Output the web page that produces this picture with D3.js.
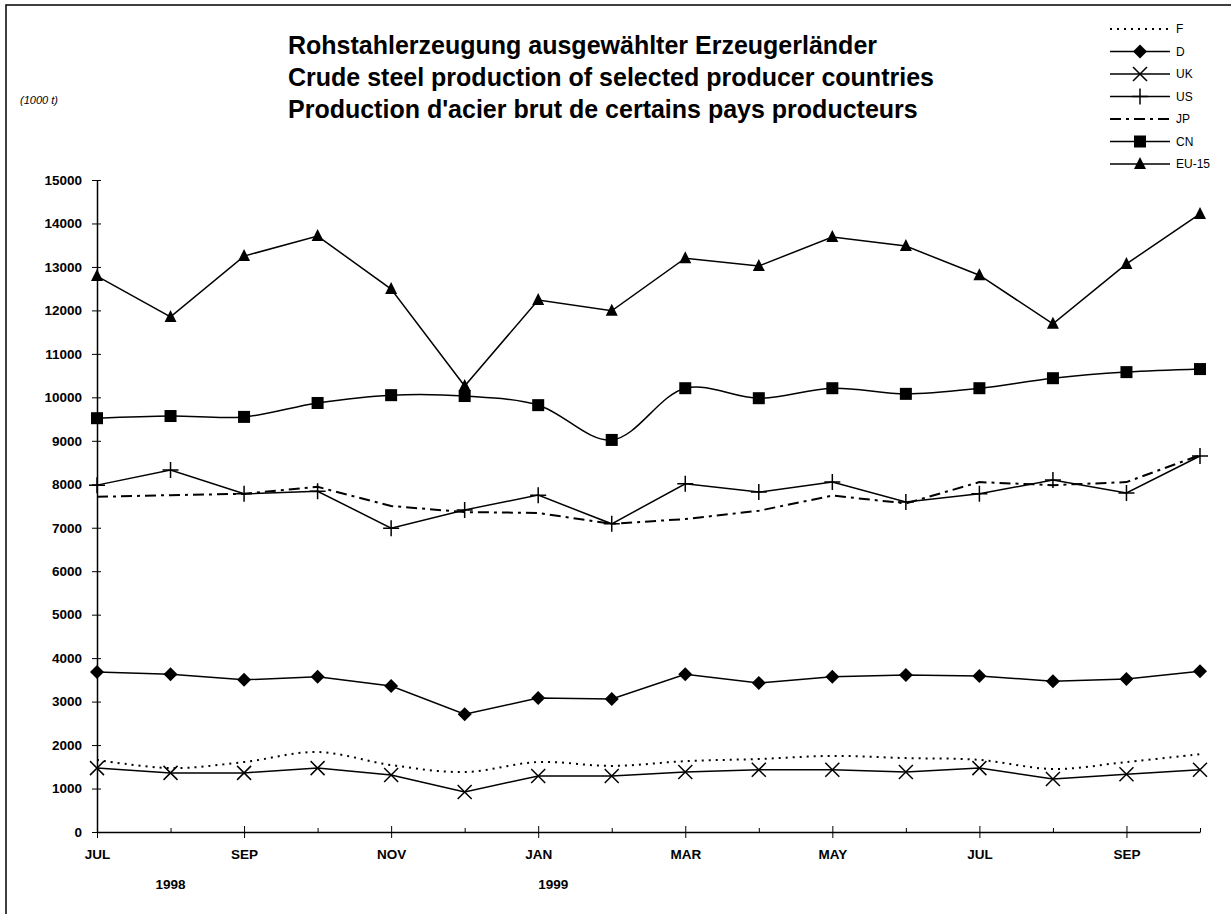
<!DOCTYPE html>
<html>
<head>
<meta charset="utf-8">
<script src="https://cdn.jsdelivr.net/npm/d3@7"></script>
<style>
  body { margin: 0; background: #fff; }
  svg { display: block; font-family: "Liberation Sans", Arial, sans-serif; }
</style>
</head>
<body>
<div id="chart"></div>
<script>
// Monate Jul 1998 - Okt 1999
const months = ['JUL', 'AUG', 'SEP', 'OCT', 'NOV', 'DEC', 'JAN', 'FEB',
                'MAR', 'APR', 'MAY', 'JUN', 'JUL', 'AUG', 'SEP', 'OCT'];
const tickLabels = ['JUL', '', 'SEP', '', 'NOV', '', 'JAN', '',
                    'MAR', '', 'MAY', '', 'JUL', '', 'SEP', ''];
const years = [{ label: '1998', at: 1, dx: 0 }, { label: '1999', at: 6, dx: 15 }];
const yTicks = d3.range(0, 15001, 1000);

const titleLines = [
  'Rohstahlerzeugung ausgewählter Erzeugerländer',
  'Crude steel production of selected producer countries',
  "Production d'acier brut de certains pays producteurs"
];

// Werte in 1000 t
const F    = [1660, 1470, 1610, 1840, 1540, 1380, 1610, 1520, 1630, 1680, 1750, 1700, 1660, 1450, 1610, 1790];
const D    = [3680, 3630, 3500, 3570, 3360, 2710, 3080, 3060, 3630, 3430, 3570, 3610, 3590, 3470, 3520, 3700];
const UK   = [1470, 1360, 1360, 1470, 1310, 920, 1290, 1290, 1380, 1430, 1430, 1380, 1470, 1220, 1330, 1430];
const US   = [7980, 8330, 7780, 7840, 6990, 7410, 7750, 7090, 8010, 7820, 8050, 7590, 7780, 8100, 7800, 8650];
const JP   = [7710, 7750, 7780, 7940, 7500, 7360, 7340, 7090, 7200, 7390, 7740, 7560, 8050, 7980, 8050, 8670];
const CN   = [9520, 9570, 9550, 9870, 10050, 10030, 9820, 9020, 10210, 9980, 10210, 10080, 10210, 10440, 10580, 10650];
const EU15 = [12790, 11850, 13250, 13710, 12490, 10260, 12240, 11990, 13200, 13020, 13690, 13480, 12810, 11690, 13070, 14220];

const series = [
  { name: 'F', values: F, dash: '2,5', marker: null, smooth: true },
  { name: 'D', values: D, dash: null, marker: 'diamond', smooth: false },
  { name: 'UK', values: UK, dash: null, marker: 'x', smooth: false },
  { name: 'US', values: US, dash: null, marker: 'plus', smooth: false },
  { name: 'JP', values: JP, dash: '11,5,3,5', marker: null, smooth: false },
  { name: 'CN', values: CN, dash: null, marker: 'square', smooth: true },
  { name: 'EU-15', values: EU15, dash: null, marker: 'triangle', smooth: false }
];

const W = 1231, H = 914;
const svg = d3.select('#chart').append('svg')
  .attr('width', W)
  .attr('height', H);

// Rahmen (nur oben und links sichtbar)
svg.append('path')
  .attr('d', `M6,${H} V5 H${W}`)
  .attr('fill', 'none')
  .attr('stroke', '#000')
  .attr('stroke-width', 1.5);

// Skalen
const x = d3.scalePoint()
  .domain(d3.range(months.length))
  .range([97, 1200]);

const y = d3.scaleLinear()
  .domain([0, 15000])
  .range([832, 180]);

// Titel (linksbündig)
svg.append('g')
  .selectAll('text')
  .data(titleLines)
  .enter()
  .append('text')
  .attr('x', 288)
  .attr('y', (d, i) => 54 + i * 32)
  .style('font-size', '25px')
  .style('font-weight', 'bold')
  .text(d => d);

svg.append('text')
  .attr('x', 20)
  .attr('y', 104)
  .style('font-size', '11px')
  .style('font-style', 'italic')
  .text('(1000 t)');

// Y-Achse
const yAxis = svg.append('g')
  .attr('transform', `translate(${x(0)},0)`)
  .call(d3.axisLeft(y).tickValues(yTicks).tickFormat(d3.format('d'))
    .tickSize(5).tickPadding(10).tickSizeOuter(0));
yAxis.selectAll('.tick').append('line')
  .attr('x2', 4)
  .attr('stroke', '#000');
yAxis.select('.domain').attr('stroke-width', 1.5);
yAxis.selectAll('text')
  .style('font-size', '13.5px')
  .style('font-weight', 'bold')
  .attr('fill', '#000');

// X-Achse
const xAxis = svg.append('g')
  .attr('transform', `translate(0,${y(0)})`)
  .call(d3.axisBottom(x).tickFormat(i => tickLabels[i]).tickSize(6).tickPadding(11).tickSizeOuter(0));
xAxis.select('.domain').attr('stroke-width', 1.5);
xAxis.selectAll('.tick').each(function(i) {
  const t = d3.select(this);
  if (tickLabels[i]) {
    t.append('line').attr('y2', -6).attr('stroke', '#000');
  } else {
    t.select('line').attr('y2', -4);
  }
});
xAxis.selectAll('text')
  .style('font-size', '13.5px')
  .style('font-weight', 'bold')
  .attr('fill', '#000');

svg.append('g')
  .selectAll('text')
  .data(years)
  .enter()
  .append('text')
  .attr('x', d => x(d.at) + d.dx)
  .attr('y', 889)
  .attr('text-anchor', 'middle')
  .style('font-size', '13.5px')
  .style('font-weight', 'bold')
  .text(d => d.label);

// Marker
function drawMarker(g, type, cx, cy) {
  if (type === 'diamond') {
    g.append('path')
      .attr('d', `M${cx},${cy - 7} L${cx + 7},${cy} L${cx},${cy + 7} L${cx - 7},${cy} Z`)
      .attr('fill', '#000');
  } else if (type === 'square') {
    g.append('rect')
      .attr('x', cx - 6).attr('y', cy - 6)
      .attr('width', 12).attr('height', 12)
      .attr('fill', '#000');
  } else if (type === 'triangle') {
    g.append('path')
      .attr('d', `M${cx},${cy - 7} L${cx + 6},${cy + 5} L${cx - 6},${cy + 5} Z`)
      .attr('fill', '#000');
  } else if (type === 'x') {
    g.append('path')
      .attr('d', `M${cx - 7},${cy - 7} L${cx + 7},${cy + 7} M${cx - 7},${cy + 7} L${cx + 7},${cy - 7}`)
      .attr('stroke', '#000')
      .attr('stroke-width', 1.5);
  } else if (type === 'plus') {
    g.append('path')
      .attr('d', `M${cx - 8},${cy} L${cx + 8},${cy} M${cx},${cy - 8} L${cx},${cy + 8}`)
      .attr('stroke', '#000')
      .attr('stroke-width', 1.5);
  }
}

// Linien
series.forEach(s => {
  const line = d3.line()
    .x((d, i) => x(i))
    .y(d => y(d))
    .curve(s.smooth ? d3.curveCatmullRom : d3.curveLinear);

  const g = svg.append('g').attr('class', 'series');
  g.append('path')
    .datum(s.values)
    .attr('fill', 'none')
    .attr('stroke', '#000')
    .attr('stroke-width', s.dash ? 2 : 1.5)
    .attr('stroke-dasharray', s.dash)
    .attr('d', line);

  if (s.marker) {
    s.values.forEach((v, i) => drawMarker(g, s.marker, x(i), y(v)));
  }
});

// Legende
const legend = svg.append('g')
  .selectAll('g')
  .data(series)
  .enter()
  .append('g')
  .attr('transform', (d, i) => `translate(1110,${29 + i * 22.5})`);

legend.append('line')
  .attr('x1', 0)
  .attr('x2', 60)
  .attr('stroke', '#000')
  .attr('stroke-width', d => d.dash ? 2 : 1.5)
  .attr('stroke-dasharray', d => d.dash);

legend.each(function(d) {
  if (d.marker) drawMarker(d3.select(this), d.marker, 30, 0);
});

legend.append('text')
  .attr('x', 66)
  .attr('dy', '0.35em')
  .style('font-size', '12px')
  .text(d => d.name);
</script>
</body>
</html>
